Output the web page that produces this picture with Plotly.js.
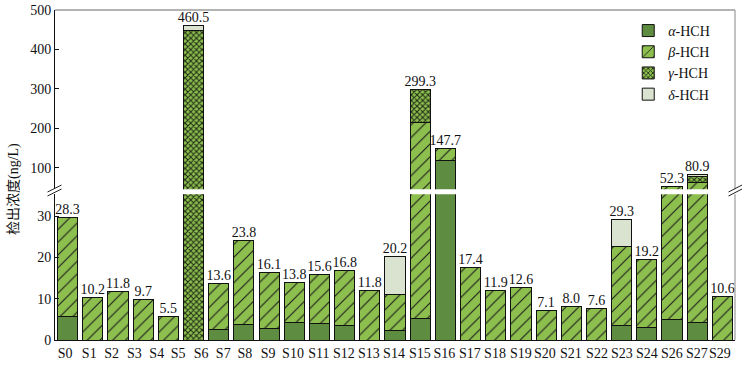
<!DOCTYPE html>
<html>
<head>
<meta charset="utf-8">
<script src="https://cdn.plot.ly/plotly-3.0.1.min.js"></script>
<style>html,body{margin:0;padding:0;background:#fff;}#chart{width:747px;height:367px;}</style>
</head>
<body>
<div id="chart"></div>
<script>
// ---- data ----
// tick labels on the x axis (as printed in the figure)
const siteLabels = ["S0","S1","S2","S3","S4","S5","S6","S7","S8","S9","S10","S11","S12","S13","S14","S15","S16","S17","S18","S19","S20","S21","S22","S23","S24","S26","S27","S29"];
// printed positions of those labels along the bar slots (the figure's label row is offset at the left)
const siteLabelPos = [-0.10,0.86,1.75,2.65,3.54,4.39,5.30,6.18,7.04,7.96,8.95,9.98,10.97,11.96,12.96,13.99,14.96,15.97,16.97,18.0,18.95,19.98,21.02,22.01,23.0,23.99,24.99,25.9];
// total concentration labels above each bar (27 bars)
const totalLabels = ["28.3","10.2","11.8","9.7","5.5","460.5","13.6","23.8","16.1","13.8","15.6","16.8","11.8","20.2","299.3","147.7","17.4","11.9","12.6","7.1","8.0","7.6","29.3","19.2","52.3","80.9","10.6"];
// component concentrations (ng/L)
const alphaHCH = [5.6,null,null,null,null,null,2.6,3.8,2.8,4.3,3.9,3.4,null,2.4,5.3,117.5,null,null,null,null,null,null,3.5,3.1,5.0,4.3,null];
const betaHCH  = [24.0,10.4,11.8,9.8,5.6,null,11.1,20.2,13.5,9.6,11.9,13.5,11.9,8.7,208,30.8,17.6,11.9,12.7,7.2,8.0,7.7,19.1,16.3,47.3,57.2,10.6];
const gammaHCH = [null,null,null,null,null,448,null,null,null,null,null,null,null,null,86,null,null,null,null,null,null,null,null,null,null,17,null];
const deltaHCH = [null,null,null,null,null,12,null,null,null,null,null,null,null,9.2,null,null,null,null,null,null,null,null,6.7,null,null,3,null];
const seriesNames = ["<i>α</i>-HCH","<i>β</i>-HCH","<i>γ</i>-HCH","<i>δ</i>-HCH"];

// ---- chart ----
const barIdx = totalLabels.map((_, i) => i);
const FONT = '"Liberation Serif", "Times New Roman", "Noto Sans CJK SC", serif';
const BREAK_LOW = 35.3, BREAK_HIGH = 45;

const styles = [
  {color:'#5e8c40', pattern:{shape:''}},
  {color:'#8dbf4f', pattern:{shape:'/', fgcolor:'#1a1a1a', bgcolor:'#8dbf4f', size:9, solidity:0.12}},
  {color:'#8dbf4f', pattern:{shape:'x', fgcolor:'#1e2a14', bgcolor:'#8dbf4f', size:4, solidity:0.45}},
  {color:'#d9e3d0', pattern:{shape:''}}
];
const seriesData = [alphaHCH, betaHCH, gammaHCH, deltaHCH];

const traces = [];
['y','y2'].forEach((ax) => {
  seriesData.forEach((vals, s) => {
    traces.push({
      type:'bar', x:barIdx, y:vals, yaxis:ax, name:seriesNames[s],
      showlegend: ax === 'y', legendgroup:'g'+s,
      marker:{color:styles[s].color, pattern:styles[s].pattern, line:{color:'#111', width:1}},
      hoverinfo:'skip'
    });
  });
});

// bar tops for the value labels
const tops = barIdx.map(i => seriesData.reduce((a, arr) => a + (arr[i] || 0), 0));
const lowIdx = barIdx.filter(i => tops[i] <= BREAK_LOW);
const highIdx = barIdx.filter(i => tops[i] > BREAK_LOW);
traces.push({
  type:'scatter', mode:'text', x:lowIdx, y:lowIdx.map(i => tops[i]), text:lowIdx.map(i => totalLabels[i]),
  textposition:'top center', textfont:{family:FONT, size:14, color:'#111'}, yaxis:'y',
  showlegend:false, cliponaxis:false, hoverinfo:'skip'
});
traces.push({
  type:'scatter', mode:'text', x:highIdx, y:highIdx.map(i => tops[i]), text:highIdx.map(i => totalLabels[i]),
  textposition:'top center', textfont:{family:FONT, size:14, color:'#111'}, yaxis:'y2',
  showlegend:false, cliponaxis:false, hoverinfo:'skip'
});

const lowTop = 0.4415, highBot = 0.4567;
const px = v => (v - 55) / 680, py = v => (340 - v) / 330;
const brk = (x0, y0, x1, y1) => ({type:'line', xref:'paper', yref:'paper', x0:px(x0), y0:py(y0), x1:px(x1), y1:py(y1), line:{color:'#222', width:1}});

const layout = {
  width:747, height:367,
  margin:{l:55, r:12, t:10, b:27},
  paper_bgcolor:'#fff', plot_bgcolor:'#fff',
  barmode:'stack', bargap:0.2,
  font:{family:FONT, size:14, color:'#111'},
  xaxis:{
    range:[-0.5, 26.5], tickvals:siteLabelPos, ticktext:siteLabels, ticks:'', tickangle:0,
    showline:true, linecolor:'#111', linewidth:1, showgrid:false, zeroline:false,
    tickfont:{family:FONT, size:14, color:'#111'}, fixedrange:true
  },
  yaxis:{
    domain:[0, lowTop], range:[0, BREAK_LOW], tickvals:[0,10,20,30],
    ticks:'inside', ticklen:4, tickcolor:'#111', showline:true, linecolor:'#111', linewidth:1,
    showgrid:false, zeroline:false, tickfont:{family:FONT, size:14, color:'#111'}
  },
  yaxis2:{
    domain:[highBot, 1], range:[BREAK_HIGH, 500], tickvals:[100,200,300,400,500],
    ticks:'inside', ticklen:4, tickcolor:'#111', showline:true, linecolor:'#111', linewidth:1,
    showgrid:false, zeroline:false, anchor:'x', tickfont:{family:FONT, size:14, color:'#111'}
  },
  legend:{
    x:0.843, y:0.985, xanchor:'left', yanchor:'top', traceorder:'normal',
    bgcolor:'rgba(255,255,255,0)', font:{family:FONT, size:14, color:'#111'}, tracegroupgap:0
  },
  annotations:[{
    text:'检出浓度(ng/L)', xref:'paper', yref:'paper', x:px(14), y:py(189), textangle:-90,
    showarrow:false, xanchor:'center', yanchor:'middle',
    font:{family:'"Liberation Serif", "Noto Sans CJK SC", serif', size:14, color:'#111'}
  }],
  shapes:[
    {type:'line', xref:'paper', yref:'paper', x0:0, x1:1, y0:1, y1:1, line:{color:'#9a9a9a', width:1.5}},
    {type:'line', xref:'paper', yref:'paper', x0:1, x1:1, y0:highBot, y1:1, line:{color:'#9a9a9a', width:1.2}},
    {type:'line', xref:'paper', yref:'paper', x0:1, x1:1, y0:0, y1:lowTop, line:{color:'#9a9a9a', width:1.2}},
    brk(47.5, 192, 61.5, 185), brk(47.5, 196, 61.5, 189),
    brk(728.5, 192, 742, 185), brk(728.5, 196, 742, 189)
  ]
};

Plotly.newPlot('chart', traces, layout, {staticPlot:true, displayModeBar:false});
</script>
</body>
</html>
